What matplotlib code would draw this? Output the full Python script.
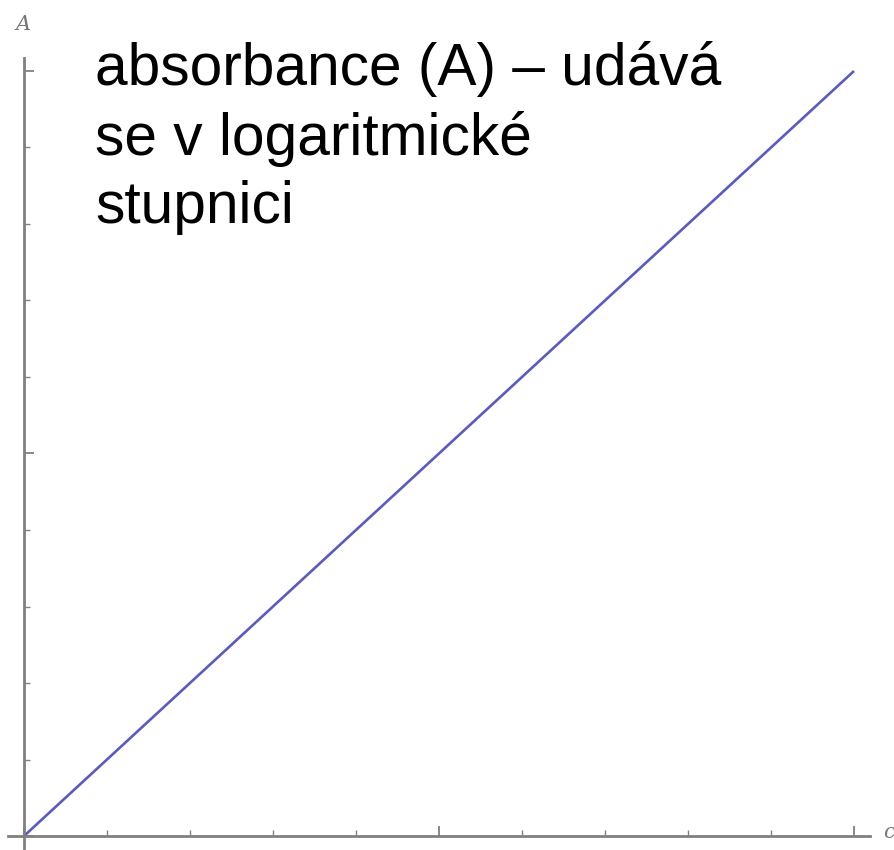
import matplotlib
matplotlib.use("Agg")
import matplotlib.pyplot as plt
from matplotlib.ticker import MultipleLocator, NullFormatter

# data
conc = [0.0, 2.0]
absorb = [0.0, 2.0]
x_label = "c"
y_label = "A"
note = "absorbance (A) – udává\nse v logaritmické\nstupnici"

W, H = 895, 850
fig = plt.figure(figsize=(W / 100, H / 100), dpi=100)

# axes box in pixels (left, right, top, bottom from top edge)
L, R, T, B = 8, 870, 58, 850
ax = fig.add_axes([L / W, 1 - B / H, (R - L) / W, (B - T) / H])

x0px, x2px = 24, 854
y0px, y2px = 836, 71
sx = (x2px - x0px) / 2.0
sy = (y0px - y2px) / 2.0
ax.set_xlim(-(x0px - L) / sx, 2 + (R - x2px) / sx)
ax.set_ylim(-(B - y0px) / sy, 2 + (y2px - T) / sy)

axcol = "#808080"
for s in ["top", "right"]:
    ax.spines[s].set_visible(False)
for s in ["left", "bottom"]:
    ax.spines[s].set_position(("data", 0))
    ax.spines[s].set_color(axcol)
    ax.spines[s].set_linewidth(2.0)

ax.xaxis.set_major_locator(MultipleLocator(1))
ax.xaxis.set_minor_locator(MultipleLocator(0.2))
ax.yaxis.set_major_locator(MultipleLocator(1))
ax.yaxis.set_minor_locator(MultipleLocator(0.2))
ax.xaxis.set_major_formatter(NullFormatter())
ax.yaxis.set_major_formatter(NullFormatter())
ax.tick_params(which="major", direction="in", length=7, width=1.3, color=axcol)
ax.tick_params(which="minor", direction="in", length=4, width=1.0, color=axcol)
ax.patch.set_alpha(0)

ax.plot(conc, absorb, color="#5a5ac0", linewidth=1.9, solid_capstyle="butt")

fig.text(23.5 / W, 1 - 25 / H, y_label, fontsize=15, family="DejaVu Serif",
         style="italic", color="#777777", ha="center", va="center")
fig.text(889 / W, 1 - 832 / H, x_label, fontsize=15, family="DejaVu Serif",
         style="italic", color="#777777", ha="center", va="center")

fig.text(95 / W, 1 - 41 / H, note, fontsize=42.2, family="Liberation Sans",
         color="black", ha="left", va="top", linespacing=1.31)

fig.savefig("out.png", dpi=100)
